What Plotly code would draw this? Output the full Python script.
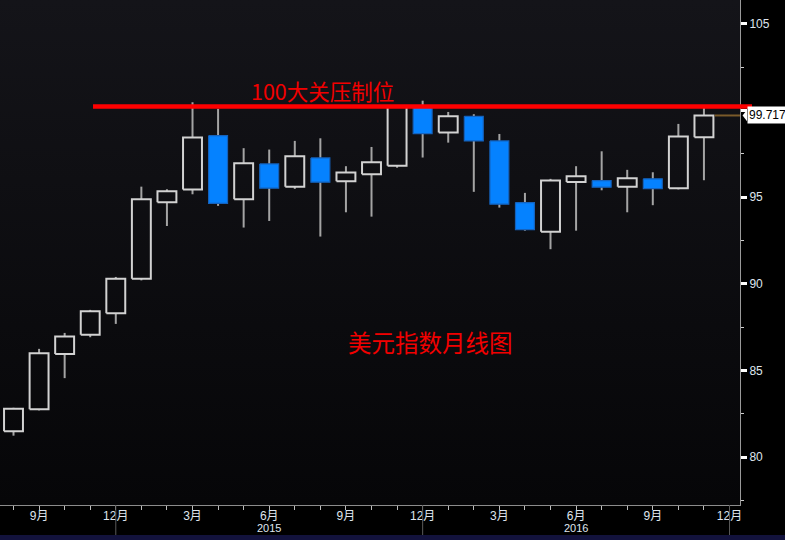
import plotly.graph_objects as go

# Monthly DXY candles, Aug 2014 .. Nov 2016 (index 0..27)
opens  = [81.50, 82.77, 85.96, 87.07, 88.31, 90.29, 94.71, 95.44, 98.55, 94.88,
          96.92, 95.61, 97.27, 95.92, 96.33, 96.81, 100.20, 98.73, 99.67, 98.25,
          94.69, 93.01, 95.88, 95.96, 95.61, 96.06, 95.52, 98.46]
highs  = [82.85, 86.25, 87.17, 88.50, 90.40, 95.61, 95.46, 100.48, 100.10, 97.83,
          97.75, 98.25, 98.40, 96.79, 97.90, 100.30, 100.57, 99.92, 99.79, 98.65,
          95.25, 96.06, 96.79, 97.65, 96.58, 96.44, 99.23, 100.25]
lows   = [81.24, 82.70, 84.56, 86.92, 87.69, 90.20, 93.34, 95.17, 94.50, 93.25,
          93.63, 95.48, 92.73, 94.13, 93.88, 96.70, 97.29, 98.15, 95.31, 94.40,
          93.07, 92.00, 93.07, 95.40, 94.13, 94.54, 95.45, 95.98]
closes = [82.80, 86.00, 86.96, 88.42, 90.30, 94.88, 95.35, 98.44, 94.65, 96.96,
          95.52, 97.37, 95.87, 96.42, 97.02, 100.20, 98.67, 99.67, 98.25, 94.60,
          93.13, 95.96, 96.21, 95.58, 96.10, 95.50, 98.50, 99.717]

month_tick_idx = [1, 4, 7, 10, 13, 16, 19, 22, 25, 28]
month_tick_txt = ["9月", "12月", "3月", "6月", "9月", "12月", "3月", "6月", "9月", "12月"]
year_idx = [10, 22]
year_txt = ["2015", "2016"]
year_sep_idx = [4, 16, 28]

y_ticks = [80, 85, 90, 95, 100, 105]
y_tick_txt = ["80", "85", "90", "95", "", "105"]  # 100 is covered by the price tag
resistance = 100.24
last_price = closes[-1]
resistance_label = "100大关压制位"
chart_label = "美元指数月线图"

X_RANGE = [-0.528, 28.41]
Y_RANGE = [77.24, 106.38]
HALF_W = 0.37

n = len(opens)
xs = list(range(n))

fig = go.Figure()

# gradient plot background
fig.add_trace(go.Scatter(
    x=[X_RANGE[0], X_RANGE[1], X_RANGE[1], X_RANGE[0], X_RANGE[0]],
    y=[Y_RANGE[0], Y_RANGE[0], Y_RANGE[1], Y_RANGE[1], Y_RANGE[0]],
    mode="lines", line=dict(width=0), fill="toself",
    fillgradient=dict(type="vertical",
                      colorscale=[[0, "#060608"], [1, "#141419"]]),
    hoverinfo="skip", showlegend=False))

# wicks (gray, outside the body)
wx, wy = [], []
for i in xs:
    top = max(opens[i], closes[i])
    bot = min(opens[i], closes[i])
    wx += [i, i, None, i, i, None]
    wy += [highs[i], top, None, bot, lows[i], None]
fig.add_trace(go.Scatter(x=wx, y=wy, mode="lines",
                         line=dict(color="#a4a4a4", width=2),
                         hoverinfo="skip", showlegend=False))


def body_path(idx):
    px, py = [], []
    for i in idx:
        a, b = opens[i], closes[i]
        px += [i - HALF_W, i + HALF_W, i + HALF_W, i - HALF_W, i - HALF_W, None]
        py += [a, a, b, b, a, None]
    return px, py


up = [i for i in xs if closes[i] >= opens[i]]
dn = [i for i in xs if closes[i] < opens[i]]

ux, uy = body_path(up)
fig.add_trace(go.Scatter(x=ux, y=uy, mode="lines",
                         line=dict(color="#d2d2d2", width=2),
                         hoverinfo="skip", showlegend=False))
dx, dy = body_path(dn)
fig.add_trace(go.Scatter(x=dx, y=dy, mode="lines", fill="toself",
                         fillcolor="#0582ff",
                         line=dict(color="#1562bc", width=1.2),
                         hoverinfo="skip", showlegend=False))

shapes = []
# resistance line
shapes.append(dict(type="line", xref="paper", yref="y",
                   x0=0.1257, x1=1.0162, y0=resistance, y1=resistance,
                   line=dict(color="#ff0000", width=4.5), layer="above"))
# last price guide
shapes.append(dict(type="line", xref="x", yref="y",
                   x0=n - 1 + HALF_W + 0.05, x1=X_RANGE[1], y0=last_price, y1=last_price,
                   line=dict(color="#7a5a2a", width=2), layer="above"))
# price tag pointer
shapes.append(dict(type="path", xref="paper", yref="y",
                   path=f"M 1.0035,{last_price} L 1.0095,{last_price + 0.33} "
                        f"L 1.0095,{last_price - 0.33} Z",
                   fillcolor="#ffffff", line=dict(width=0), layer="above"))
# year separators
for xi in year_sep_idx:
    shapes.append(dict(type="line", xref="x", yref="paper",
                       x0=xi, x1=xi, y0=0, y1=-0.0594,
                       line=dict(color="#5a5a5a", width=1)))
# bottom toolbar strip
shapes.append(dict(type="rect", xref="paper", yref="paper",
                   x0=0, x1=1.061, y0=-0.0594, y1=-0.075,
                   fillcolor="#12123c", line=dict(width=0)))

annotations = [
    dict(text=resistance_label, x=12.1, y=101.13, xref="x", yref="y",
         showarrow=False, font=dict(family="Noto Sans CJK SC", size=21.5, color="#f20000")),
    dict(text=chart_label, x=16.29, y=86.65, xref="x", yref="y",
         showarrow=False, font=dict(family="Noto Sans CJK SC", size=23.5, color="#f20000")),
    dict(text=f"{last_price:.3f}", x=1.0095, y=last_price, xref="paper", yref="y",
         xanchor="left", yanchor="middle", showarrow=False, bgcolor="#ffffff",
         borderpad=1, font=dict(family="Liberation Sans Narrow, Liberation Sans",
                                size=12, color="#000000")),
]
for xi, t in zip(year_idx, year_txt):
    annotations.append(dict(text=t, x=xi, y=-0.046, xref="x", yref="paper",
                            showarrow=False, yanchor="middle",
                            font=dict(family="Liberation Sans Narrow, Liberation Sans",
                                      size=11, color="#dfe5ee")))

fig.update_layout(
    width=785, height=540,
    margin=dict(l=0, r=45, t=0, b=35),
    paper_bgcolor="#000000", plot_bgcolor="#0d0d11",
    showlegend=False,
    shapes=shapes, annotations=annotations,
    font=dict(family="Liberation Sans Narrow, Liberation Sans, Noto Sans CJK SC",
              color="#dfe5ee", size=12),
    xaxis=dict(range=X_RANGE, tickmode="array", tickvals=month_tick_idx,
               ticktext=month_tick_txt, showgrid=False, zeroline=False,
               showline=True, linecolor="#8c8c8c", linewidth=1,
               ticks="", tickfont=dict(size=12, color="#dfe5ee"),
               minor=dict(tickmode="linear", tick0=0, dtick=1, ticks="outside",
                          ticklen=4, tickcolor="#bbbbbb", tickwidth=1),
               fixedrange=True),
    yaxis=dict(range=Y_RANGE, side="right", tickmode="array", tickvals=y_ticks,
               ticktext=y_tick_txt,
               showgrid=False, zeroline=False, showline=True,
               linecolor="#9a9a9a", linewidth=1, ticks="outside",
               ticklen=6, tickwidth=3, tickcolor="#ffffff",
               tickfont=dict(size=12, color="#dfe5ee"),
               minor=dict(tickmode="linear", tick0=77.5, dtick=5, ticks="outside",
                          ticklen=3, tickcolor="#cccccc", tickwidth=1),
               fixedrange=True),
)

fig.write_html("out.html",
               config={"displayModeBar": False},
               post_script="document.body.style.margin='0px';"
                           "document.body.style.padding='0px';")
